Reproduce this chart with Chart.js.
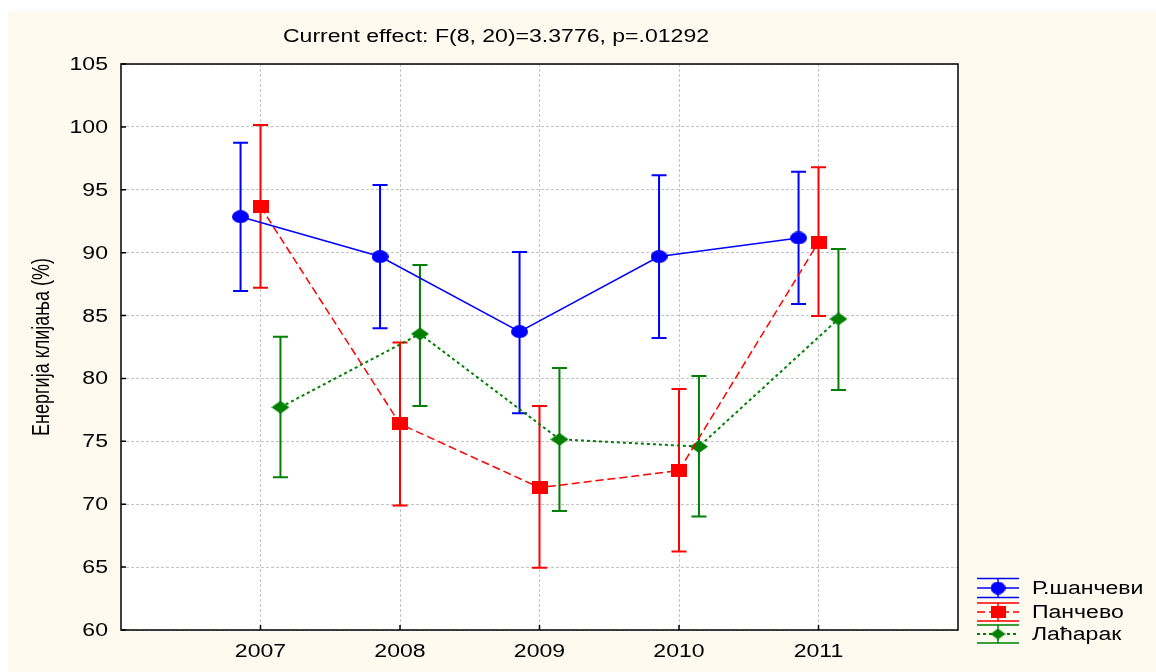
<!DOCTYPE html>
<html>
<head>
<meta charset="utf-8">
<script src="https://cdn.jsdelivr.net/npm/chart.js@4/dist/chart.umd.min.js"></script>
<style>
  html, body { margin: 0; padding: 0; background: #ffffff; }
  #wrap { position: absolute; left: 0; top: 0; width: 1156px; height: 672px; }
</style>
</head>
<body>
<div id="wrap"><canvas id="c" width="1156" height="672"></canvas></div>
<script>
// ---------- data ----------
const years = [2007, 2008, 2009, 2010, 2011];
const yTicks = [60, 65, 70, 75, 80, 85, 90, 95, 100, 105];
const seriesNames = ['Р.шанчеви', 'Панчево', 'Лаћарак'];

const rsMean = [92.86, 89.69, 83.72, 89.69, 91.17];
const rsLow  = [86.96, 83.99, 77.23, 83.22, 85.92];
const rsHigh = [98.74, 95.38, 90.06, 96.15, 96.44];

const paMean = [93.66, 76.38, 71.32, 72.67, 90.83];
const paLow  = [87.22, 69.89, 64.94, 66.24, 84.97];
const paHigh = [100.15, 82.85, 77.81, 79.17, 96.79];

const laMean = [77.71, 83.54, 75.16, 74.58, 84.73];
const laLow  = [72.15, 77.81, 69.47, 69.02, 79.09];
const laHigh = [83.32, 89.02, 80.83, 80.20, 90.29];

const titleText = 'Current effect: F(8, 20)=3.3776, p=.01292';
const yTitleText = 'Енергија клијања (%)';

// ---------- styling ----------
const FONT = '"Liberation Sans", Arial, sans-serif';
const SX = 1.28; // horizontal text stretch
const colors = ['#0000FF', '#FF0000', '#008000'];
const dashes = [[], [8, 4], [3, 3]];
const lineWidths = [1.5, 1.5, 2];
const xOffsets = [-0.143, 0, 0.143];

function markerCanvas(kind, color, w, h) {
  const c = document.createElement('canvas');
  c.width = w; c.height = h;
  const g = c.getContext('2d');
  g.fillStyle = color;
  if (kind === 'ellipse') {
    g.beginPath(); g.ellipse(w / 2, h / 2, w / 2, h / 2, 0, 0, Math.PI * 2); g.fill();
  } else if (kind === 'rect') {
    g.fillRect(0, 0, w, h);
  } else {
    g.beginPath(); g.moveTo(w / 2, 0); g.lineTo(w, h / 2); g.lineTo(w / 2, h); g.lineTo(0, h / 2); g.closePath(); g.fill();
  }
  return c;
}
const markers = [
  markerCanvas('ellipse', colors[0], 17, 13),
  markerCanvas('rect', colors[1], 16, 13),
  markerCanvas('diamond', colors[2], 18, 13)
];
const legendMarkers = [
  markerCanvas('ellipse', colors[0], 15, 13),
  markerCanvas('rect', colors[1], 15, 12),
  markerCanvas('diamond', colors[2], 15, 11)
];

const means = [rsMean, paMean, laMean];
const lows = [rsLow, paLow, laLow];
const highs = [rsHigh, paHigh, laHigh];

const datasets = seriesNames.map((name, s) => ({
  label: name,
  data: means[s].map((v, i) => ({ x: years[i] + xOffsets[s], y: v })),
  showLine: true,
  borderColor: colors[s],
  borderWidth: lineWidths[s],
  borderDash: dashes[s],
  backgroundColor: colors[s],
  pointStyle: markers[s],
  pointRadius: 8,
  tension: 0
}));

function stretchedText(ctx, text, x, y, align, baseline) {
  ctx.save();
  ctx.translate(x, y);
  ctx.scale(SX, 1);
  ctx.textAlign = align;
  ctx.textBaseline = baseline || 'middle';
  ctx.fillText(text, 0, 0);
  ctx.restore();
}

const backgroundPlugin = {
  id: 'bg',
  beforeDraw(chart) {
    const { ctx, chartArea: a } = chart;
    ctx.save();
    ctx.fillStyle = '#ffffff';
    ctx.fillRect(0, 0, chart.width, chart.height);
    ctx.fillStyle = '#FFFAF0';
    ctx.fillRect(8, 11, chart.width - 8, chart.height - 11);
    ctx.fillStyle = '#ffffff';
    ctx.fillRect(a.left, a.top, a.right - a.left, a.bottom - a.top);
    ctx.restore();
  }
};

const errorBarPlugin = {
  id: 'errbars',
  beforeDatasetsDraw(chart) {
    const { ctx } = chart;
    const ys = chart.scales.y;
    ctx.save();
    ctx.lineWidth = 2;
    ctx.setLineDash([]);
    seriesNames.forEach((n, s) => {
      const meta = chart.getDatasetMeta(s);
      ctx.strokeStyle = colors[s];
      meta.data.forEach((pt, i) => {
        const x = pt.x;
        const yl = ys.getPixelForValue(lows[s][i]);
        const yh = ys.getPixelForValue(highs[s][i]);
        ctx.beginPath();
        ctx.moveTo(x, yl); ctx.lineTo(x, yh);
        ctx.moveTo(x - 7.5, yl); ctx.lineTo(x + 7.5, yl);
        ctx.moveTo(x - 7.5, yh); ctx.lineTo(x + 7.5, yh);
        ctx.stroke();
      });
    });
    ctx.restore();
  }
};

const framePlugin = {
  id: 'frame',
  afterDraw(chart) {
    const { ctx, chartArea: a } = chart;
    const xs = chart.scales.x, ys = chart.scales.y;
    ctx.save();
    // frame
    ctx.strokeStyle = '#000000';
    ctx.lineWidth = 1.5;
    ctx.setLineDash([]);
    ctx.strokeRect(a.left, a.top, a.right - a.left, a.bottom - a.top);
    // inward ticks
    ctx.lineWidth = 1.5;
    ctx.beginPath();
    yTicks.forEach(v => {
      const y = ys.getPixelForValue(v);
      ctx.moveTo(a.left, y); ctx.lineTo(a.left + 5, y);
    });
    years.forEach(v => {
      const x = xs.getPixelForValue(v);
      ctx.moveTo(x, a.bottom); ctx.lineTo(x, a.bottom - 5);
    });
    ctx.stroke();
    // tick labels
    ctx.fillStyle = '#000000';
    ctx.font = '18px ' + FONT;
    yTicks.forEach(v => {
      stretchedText(ctx, String(v), a.left - 13, ys.getPixelForValue(v) + 1, 'right');
    });
    years.forEach(v => {
      stretchedText(ctx, String(v), xs.getPixelForValue(v), a.bottom + 22, 'center');
    });
    // title
    ctx.font = '18px ' + FONT;
    stretchedText(ctx, titleText, 496, 37, 'center');
    // y-axis title
    ctx.save();
    ctx.translate(43, (a.top + a.bottom) / 2);
    ctx.scale(SX, 1);
    ctx.rotate(-Math.PI / 2);
    ctx.textAlign = 'center';
    ctx.textBaseline = 'middle';
    ctx.font = '18px ' + FONT;
    ctx.fillText(yTitleText, 0, 0);
    ctx.restore();
    // legend
    const rowY = [588, 612, 634];
    const halfGap = [9.5, 9, 9];
    seriesNames.forEach((name, s) => {
      const y = rowY[s];
      const x0 = 977, x1 = 1019, xm = 998;
      ctx.strokeStyle = colors[s];
      ctx.lineWidth = 1.5;
      ctx.setLineDash([]);
      ctx.beginPath();
      ctx.moveTo(x0, y - halfGap[s]); ctx.lineTo(x1, y - halfGap[s]);
      ctx.moveTo(x0, y + halfGap[s]); ctx.lineTo(x1, y + halfGap[s]);
      ctx.moveTo(xm, y - halfGap[s]); ctx.lineTo(xm, y + halfGap[s]);
      ctx.stroke();
      ctx.lineWidth = lineWidths[s];
      ctx.setLineDash(dashes[s]);
      ctx.beginPath();
      ctx.moveTo(x0, y); ctx.lineTo(x1, y);
      ctx.stroke();
      ctx.setLineDash([]);
      const m = legendMarkers[s];
      ctx.drawImage(m, xm - m.width / 2, y - m.height / 2);
      ctx.fillStyle = '#000000';
      ctx.font = '18px ' + FONT;
      stretchedText(ctx, name, 1032, y + 1, 'left');
    });
    ctx.restore();
  }
};

new Chart(document.getElementById('c'), {
  type: 'scatter',
  data: { datasets },
  options: {
    responsive: false,
    animation: false,
    events: [],
    layout: { padding: { left: 0, top: 64, right: 198, bottom: 0 } },
    plugins: { legend: { display: false }, tooltip: { enabled: false }, title: { display: false } },
    scales: {
      x: {
        type: 'linear',
        min: 2006, max: 2012,
        afterBuildTicks: (scale) => { scale.ticks = years.map(v => ({ value: v })); },
        afterFit: (scale) => { scale.height = 42; },
        ticks: { display: false },
        grid: { color: '#c4c4c4', lineWidth: 1, drawTicks: false },
        border: { display: false, dash: [3, 2] }
      },
      y: {
        min: 60, max: 105,
        afterBuildTicks: (scale) => { scale.ticks = yTicks.map(v => ({ value: v })); },
        afterFit: (scale) => { scale.width = 121; },
        ticks: { display: false },
        grid: { color: '#c4c4c4', lineWidth: 1, drawTicks: false },
        border: { display: false, dash: [3, 2] }
      }
    }
  },
  plugins: [backgroundPlugin, errorBarPlugin, framePlugin]
});
</script>
</body>
</html>
